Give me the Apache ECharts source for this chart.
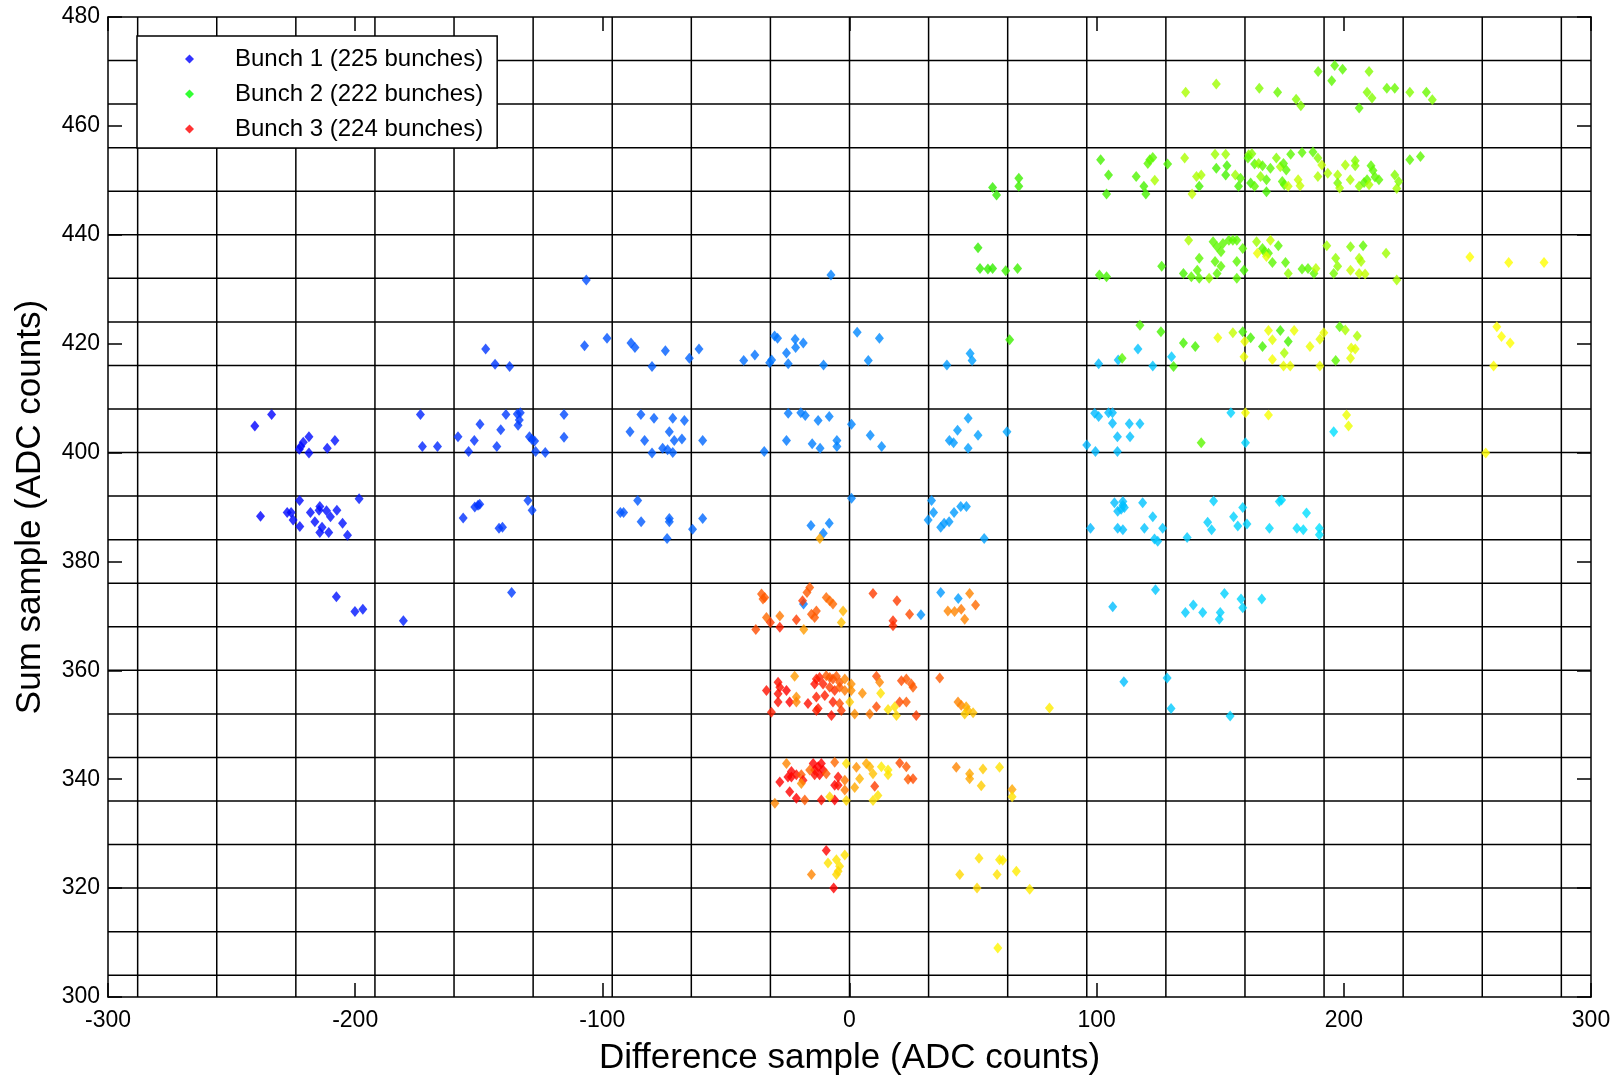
<!DOCTYPE html>
<html>
<head>
<meta charset="utf-8">
<title>Sum vs Difference sample</title>
<script src="https://cdn.jsdelivr.net/npm/echarts@6/dist/echarts.min.js"></script>
<style>
  html, body { margin: 0; padding: 0; background: #fff; }
  #chart { width: 1616px; height: 1076px; }
</style>
</head>
<body>
<div id="chart"></div>
<script>
// Axis ranges and tick steps
const xRange = [-300, 300];
const yRange = [300, 480];
const xTickStep = 100;
const yTickStep = 20;

// Bin boundaries drawn as the black grid (32 counts wide, 8 counts tall)
const xGridLines = [-288, -256, -224, -192, -160, -128, -96, -64, -32, 0, 32, 64, 96, 128, 160, 192, 224, 256, 288];
const yGridLines = [304, 312, 320, 328, 336, 344, 352, 360, 368, 376, 384, 392, 400, 408, 416, 424, 432, 440, 448, 456, 464, 472];

const seriesNames = ['Bunch 1 (225 bunches)', 'Bunch 2 (222 bunches)', 'Bunch 3 (224 bunches)'];

// Bunch 1: [difference, sum]
const bunch1 = [
  [-106.5,431.7],[-147.2,419],[-143.4,416.2],[-137.5,415.8],[-107.2,419.6],[-98.1,421],
  [-233.8,407],[-240.6,404.9],[-218.7,402.9],[-221,401.9],[-222,401.1],[-222.6,400.6],[-218.7,399.9],[-211.3,400.8],[-208.2,402.2],
  [-173.6,407],[-172.8,401.1],[-166.7,401.1],[-158.4,402.9],[-154.1,400.2],[-151.8,402.2],[-149.5,405.2],[-142.7,401.1],[-141.1,404.2],
  [-139,407],[-134.4,407.1],[-133.6,406],[-134.1,405],[-133.2,407.3],[-129.5,402.9],[-128.5,402.4],[-127.4,402.1],[-127,400.2],[-123.1,400],
  [-115.5,407],[-115.5,402.8],
  [-222.5,391.2],[-238.3,388.3],[-227.5,389],[-225.9,389],[-225.1,387.6],[-222.4,386.4],[-218.1,389],[-216.3,387.3],[-214.3,390.1],
  [-214.6,389.4],[-211.6,389.3],[-210,388.2],[-207.4,389.4],[-213.4,386.3],[-214.3,385.3],[-210.7,385.3],[-205.1,387],[-203.1,384.8],
  [-198.4,391.5],[-156.3,388],[-151.6,390],[-150.3,390.3],[-149.6,390.5],[-141.8,386.1],[-140.4,386.3],[-130.1,391.2],[-128.4,389.4],
  [-92.7,389],[-91.4,389],
  [-207.6,373.5],[-200.1,370.8],[-196.9,371.2],[-180.5,369.1],[-136.7,374.3],
  [-7.5,432.6],
  [-88.4,420.1],[-86.8,419.3],[-74.5,418.7],[-79.9,415.8],[-64.8,417.3],[-60.9,419],[-42.8,416.9],[-38.3,417.9],[-32.3,416.5],[-31.5,417],
  [-30.3,421.4],[-29.1,421],[-25.5,418.3],[-24.8,416.3],[-22,420.8],[-21.8,419.3],[-18.7,420.1],[-10.5,416.1],[3.1,422.1],[12.1,421],
  [7.6,416.9],[39.4,416.1],
  [-84.4,407],[-88.8,403.8],[-79.1,406.3],[-82.9,402.2],[-71.5,406.3],[-72.9,403.8],[-66.8,405.9],[-70.9,402.2],[-67.8,402.5],[-75.6,400.8],
  [-73.6,400.5],[-71.5,400],[-79.9,399.9],[-59.4,402.2],[-34.5,400.2],[-24.8,407.2],[-19.7,407.3],[-17.9,406.8],[-12.7,405.9],[-8.2,406.6],
  [0.8,405.2],[-25.5,402.2],[-15.1,401.6],[-11.9,400.8],[-5.1,402.2],[-5.1,401.1],[8.4,403.2],[13,401.1],[43.7,404.1],[40.4,402.2],[42.1,401.8],
  [-85.7,391.2],[-84.3,387.3],[-72.9,387.9],[-72.9,387.3],[-73.8,384.2],[-59.4,387.9],[-63.5,385.9],[-15.6,386.6],[-8.2,387],[-10.6,385.2],
  [0.8,391.6],[33.2,391.2],[34,389],[31.8,387.6],[36.9,386.3],[38.3,387],[40.3,387.3],[42.3,389],[45,390.1],[47.3,390.1],[54.5,384.2],
  [-18.6,372.2],[36.9,374.3],[44,373.2],[28.9,370.2],
  [48.8,418.2],[49.6,416.9],[100.8,416.3],[108.7,417],[116.7,419],[122.7,415.9],[130.3,417.6],
  [48,406.3],[52,403.2],[48,400.8],[63.7,403.8],[96,401.4],[99.2,407.2],[100.8,406.6],[104.8,407.3],[106.4,407.3],[106.4,405.4],
  [113.2,405.3],[117.5,405.3],[108.4,402.9],[113.5,402.9],[99.5,400.2],[108.4,400.2],[154.3,407.3],[160.2,401.8],[195.9,403.8],
  [107.2,390.8],[110.6,391],[110.6,390.3],[118.6,390.8],[108.5,389.2],[109.9,389.6],[111.2,389.9],[122.7,388.2],[97.5,386.1],[108.5,386.1],
  [110.6,385.8],[119.3,386.1],[126.7,386.1],[123.4,384.1],[124.7,383.7],[136.6,384.4],[147.3,391.1],[144.9,387.2],[146.5,385.8],[155.4,388.2],
  [159.1,389.9],[157.1,386.5],[160.8,386.9],[169.9,386.1],[173.9,391],[174.8,391.3],[184.9,388.9],[181,386.1],[183.6,385.8],[190.1,386.1],
  [190.1,384.9],
  [123.8,374.8],[106.5,371.7],[135.9,370.6],[139.1,372],[142.9,370.6],[151.7,374.1],[150,370.6],[149.6,369.4],[158.4,373.1],[159.1,371.5],
  [166.8,373.1],
  [111,357.9],[128.5,358.6],[130.1,353],[154,351.6]
];

// Bunch 2: [difference, sum, colour level 0..1]
const bunch2 = [
  [136,466.2,.6],[148.4,467.7,.55],[165.8,466.9,.45],[173.2,466.2,.35],[180.7,464.9,.45],[182.6,463.7,.45],[189.6,470,.35],[195.1,468.3,.3],
  [196.3,471.1,.3],[199.5,470.4,.3],[206.2,463.3,.3],[209.4,466.2,.45],[211.4,465.1,.45],[210.2,470,.45],[217.4,466.9,.35],[220.6,466.9,.35],
  [226.7,466.2,.45],[233.4,466.2,.35],[235.8,464.8,.45],
  [57.9,448.7,.1],[59.5,447.3,.1],[68.5,450.4,.15],[68.5,448.9,.15],[101.6,453.8,.2],[104.8,451,.2],[104,447.5,.2],[116,450.7,.25],
  [119.1,448.9,.2],[119.9,447.5,.2],[120.7,453.1,.3],[121.5,453.8,.3],[122.7,454.2,.3],[123.5,450,.6],[128.7,453,.25],[135.6,454.1,.6],
  [138.6,447.5,.7],[140.4,450.7,.6],[142.3,451,.6],[141.5,448.9,.2],[147.9,454.8,.55],[152.2,454.8,.55],[148.4,452.2,.2],[152.7,452.7,.2],
  [152.2,451,.2],[156.1,451,.55],[157.4,448.9,.2],[158.2,450.4,.3],[161.5,454.7,.45],[162.8,454.9,.45],[161.2,454.1,.3],[163.9,453,.3],
  [165.5,453.1,.5],[167.1,452.7,.3],[162.3,449.5,.2],[163.9,448.9,.3],[166.3,450.7,.5],[168.7,450.1,.3],[168.7,447.9,.2],[170.3,452.2,.3],
  [172.7,454.1,.45],[174.3,452.5,.6],[175.6,453.1,.3],[176.7,451.9,.3],[175.1,449.8,.3],[175.9,449.2,.3],[177.5,448.9,.7],[178.5,454.8,.3],
  [183.1,455.1,.3],[187.5,455.2,.3],[189.5,454.1,.45],[181.5,450.1,.7],[182.3,449,.7],[189.5,450.7,.6],[191.1,452.8,.7],[193.5,451.3,.6],
  [197.5,451,.6],[197.5,449.5,.4],[198.3,448.6,.6],[200.6,452.8,.6],[204.6,453.6,.45],[204.6,452.7,.45],[202.6,450.1,.6],[206.2,448.9,.5],
  [208.2,449.6,.3],[209.4,450.1,.3],[211,452.7,.3],[211.8,451.8,.3],[212.6,450.6,.3],[214.2,450.1,.3],[210.2,449.2,.6],[220.6,451,.45],
  [221.4,448.5,.55],[222.2,449.8,.45],[226.7,453.8,.3],[231,454.4,.3],
  [52,437.6,.1],[52.8,433.8,.1],[56,433.7,.1],[57.9,433.8,.1],[63.2,433.4,.15],[68,433.8,.15],[101.1,432.6,.2],[104,432.3,.2],[126.3,434.2,.2],
  [137.2,439,.6],[141.5,435.7,.3],[140.7,433.5,.3],[135.1,432.9,.2],[138.3,432.3,.3],[141.5,432,.3],[145.5,432,.5],[147.1,438.7,.3],
  [148.7,437.8,.3],[150.3,436.9,.3],[151.1,438.4,.3],[153.5,439,.3],[155.1,439,.3],[159.1,437.5,.3],[156.7,439,.3],[147.9,435.1,.3],
  [150.3,434.2,.3],[148.7,432.9,.3],[156.7,435.1,.3],[159.6,433.5,.2],[156.7,432,.3],[164.7,438.7,.55],[170.3,439,.7],[167.1,437.5,.3],
  [167.9,436.9,.3],[169.5,436.6,.3],[173.5,438,.3],[171.1,434.9,.3],[176.4,434.9,.3],[165,436.6,.9],[168.7,436,.85],[177.5,432.9,.5],
  [183.1,433.7,.3],[185.5,433.8,.3],[187.9,432.9,.3],[188.7,433.8,.65],[193.1,438,.55],[196.7,435.7,.5],[197.5,434.2,.5],[195.9,432.9,.4],
  [202.7,437.8,.45],[206.2,435.7,.6],[207,435.1,.6],[202.7,433.5,.7],[206.2,432.9,.7],[207.8,438,.3],[208.6,432.8,.7],[217.1,436.6,.55],
  [221.4,431.7,.6],[251,435.9,1],[266.7,434.9,1],[281,434.9,1],
  [64.8,420.7,.15],[117.5,423.4,.25],[126,422.2,.2],[110.3,417.3,.3],[135.1,420.1,.2],[139.9,419.5,.2],[131.1,415.8,.2],[149,421.1,.9],
  [155.1,422,.7],[159.1,422.2,.2],[162.3,421.1,.2],[159.9,420.4,.9],[159.6,417.6,.9],[167.1,419.5,.2],[169.5,422.4,.9],[171.1,420.7,.85],
  [174.3,422.4,.2],[177.5,420.4,.2],[179.9,422.4,.9],[175.9,418.3,.6],[171.1,417.1,.95],[175.6,415.9,.9],[178.3,415.9,.9],[186.3,419.5,.9],
  [190.3,420.8,.85],[191.9,422,.9],[190.3,415.9,.9],[198.3,423.1,.3],[200.6,422.5,.6],[205.4,421.4,.6],[203,419.2,.85],[204.6,419,.85],
  [196.7,416.9,.3],[202.7,417.3,.85],[261.9,423.1,1],[263.8,421.3,1],[267.3,420.1,1],[260.6,415.9,1],
  [142.3,401.8,.3],[160.2,407.3,.95],[169.5,406.9,.95],[201.1,406.9,.9],[201.9,404.9,.9],[257.4,399.9,1]
];

// Bunch 3: [difference, sum, colour level 0..1]
const bunch3 = [
  [-35.6,374,.3],[-34.3,373.4,.3],[-35,373.1,.3],[-33.6,369.7,.35],[-28.2,370,.4],[-32,368.8,.2],[-28.2,367.9,.1],[-37.9,367.5,.25],
  [-16.1,375.2,.3],[-17.2,374.3,.3],[-19,372.8,.2],[-21.5,369.3,.2],[-15.4,370.3,.3],[-13.4,370.9,.3],[-14.1,369.7,.3],[-9.4,373.4,.35],
  [-8,372.8,.35],[-6.7,372.2,.35],[-2.6,370.9,.65],[-3.3,368.8,.7],[-18.5,367.5,.55],[9.5,374.1,.2],[19.2,372.8,.2],[24.3,370.3,.25],
  [17.6,369.1,.15],[17.6,368.2,.15],[48.6,374.1,.45],[51,372,.35],[39.8,370.9,.45],[42.5,370.8,.45],[45.2,371.2,.4],[46.6,369.4,.45],
  [-12,384.2,.6],
  [-33.6,356.3,.05],[-28.9,357.8,.05],[-28.2,356.9,.05],[-28.9,355.7,.05],[-28.9,354.2,.05],[-25.5,356.3,0],[-24.2,354.2,0],[-22.2,358.9,.55],
  [-21.5,355.1,.5],[-21.5,354.2,.45],[-31.6,352.3,.1],[-16.8,353.9,.05],[-13.4,358.4,.1],[-12.1,358.7,.1],[-14.1,357.5,.05],[-13.4,355.1,.1],
  [-12.7,353,.1],[-9.4,359,.3],[-8,358.7,.3],[-6.7,358.4,.25],[-5.3,358.9,.3],[-10.7,357.5,.1],[-8,356.9,.2],[-6,356.3,.15],[-4,356.9,.3],
  [-4,357.8,.3],[-10,355.4,.1],[-6.7,354.2,.1],[-4,353.9,.25],[-3.3,352.6,.2],[-7.3,351.7,.05],[-13.4,352.6,.1],[-1.9,356.3,.4],
  [-1.9,358.4,.45],[0.7,357.5,.5],[0.7,356.3,.5],[0.1,354.2,.75],[2.1,352,.5],[8.2,352,.4],[5.2,355.8,.5],[10.9,358.9,.25],[12.2,357.8,.45],
  [12.6,355.8,.85],[10.9,353.3,.25],[15.6,352.8,.85],[18.3,353.3,.85],[19,351.7,.8],[20.3,354.2,.25],[23,354.2,.3],[21,358.1,.25],
  [23,358.4,.3],[25,357.5,.3],[25.7,356.9,.3],[27,351.7,.2],[36.5,358.6,.3],[43.9,354.2,.45],[45.2,353.6,.45],[47.2,353.3,.6],
  [47.9,352.6,.65],[50,352.2,.7],[46.6,352,.75],[80.9,353.1,.9],
  [-25.5,342.9,.45],[-28.2,339.5,0],[-24.9,340.4,0],[-23.5,340.4,0],[-23.5,341.4,0],[-21.5,340.8,.05],[-19.5,340.8,.3],[-18.8,339.8,.05],
  [-19.5,339.2,.5],[-24.2,337.7,0],[-21.5,336.5,0],[-18.1,336.2,.3],[-30.2,335.6,.45],[-14.7,342.9,0],[-14.1,341.7,0],[-12.7,342.3,0],
  [-11.4,342.9,0],[-10.7,341.7,0],[-12.1,340.8,0],[-14.1,340.8,.05],[-16.1,341.7,.35],[-9.4,341,.3],[-6,343.1,.35],[-4.6,340.4,.05],
  [-6,338.9,0],[-4.6,338.9,.05],[-1.9,339.8,.4],[-1.9,338,.4],[-11.4,336.2,.05],[-6,336.2,0],[-8,336.8,.8],[-1.3,342.9,.85],[-1.3,336.1,.8],
  [2.8,342.2,.5],[6.8,342.9,.6],[8.2,342.3,.65],[9.5,341,.7],[12.9,342.3,.9],[15.6,341.7,.9],[15.6,340.8,.85],[4.1,340.1,.65],[2.1,338.5,.6],
  [10.2,338.7,.2],[11.5,337,.85],[9.5,336.1,.85],[20.3,343,.25],[23,342.3,.3],[23.7,340,.3],[25.7,340.1,.25],[43.2,342.2,.45],[48.6,341,.6],
  [48.6,340.1,.6],[53.3,338.8,.75],[54,341.9,.75],[60.7,342.2,.85],[65.8,338.1,.6],[65.8,336.8,.85],
  [-9.4,326.9,0],[-1.9,326.1,.85],[-5.3,325.2,.85],[-8.7,324.6,.85],[-4,324,.85],[-4.6,323.1,.8],[-5.3,322.5,.8],[-15.4,322.5,.45],
  [-6.4,320,0],[52.4,325.5,.85],[60.7,325.2,.9],[62,325.1,.9],[44.6,322.5,.8],[59.7,322.5,.85],[67.5,323.1,.9],[51.6,320,.8],[72.9,319.8,.9],
  [60,309,.95]
];

const FONT = '"Liberation Sans", Arial, sans-serif';
const chart = echarts.init(document.getElementById('chart'), null, { renderer: 'canvas' });

const frameLine = { color: '#000', width: 1.5 };
const innerTick = { inside: true, length: 14, lineStyle: { color: '#000', width: 1.5 } };

function gridSeries(values, vertical) {
  return {
    type: 'custom',
    silent: true,
    z: 1,
    data: values.map(v => vertical ? [v, yRange[0]] : [xRange[0], v]),
    renderItem: function (params, api) {
      const p1 = vertical ? api.coord([api.value(0), yRange[0]]) : api.coord([xRange[0], api.value(1)]);
      const p2 = vertical ? api.coord([api.value(0), yRange[1]]) : api.coord([xRange[1], api.value(1)]);
      return {
        type: 'line',
        shape: { x1: p1[0], y1: p1[1], x2: p2[0], y2: p2[1] },
        style: { stroke: '#000', lineWidth: 1.5 }
      };
    }
  };
}

function scatterSeries(name, data, color) {
  return {
    name: name,
    type: 'scatter',
    z: 3,
    symbol: 'diamond',
    symbolSize: [9, 11],
    itemStyle: { color: color },
    data: data
  };
}

chart.setOption({
  animation: false,
  backgroundColor: '#fff',
  textStyle: { fontFamily: FONT },
  grid: { left: 108, right: 25, top: 17, bottom: 79, containLabel: false, outerBoundsMode: 'none' },
  legend: {
    data: seriesNames,
    orient: 'vertical',
    left: 137,
    top: 36,
    padding: [10, 14, 6, 48],
    itemGap: 9,
    itemWidth: 9,
    itemHeight: 9,
    icon: 'diamond',
    backgroundColor: '#fff',
    borderColor: '#000',
    borderWidth: 1.5,
    textStyle: { fontFamily: FONT, fontSize: 24, color: '#000', lineHeight: 26, padding: [0, 0, 0, 36] },
    z: 10
  },
  visualMap: [
    { type: 'continuous', show: false, seriesIndex: 2, dimension: 0, min: -240, max: 190,
      inRange: { color: ['#0000ff', '#0020ff', '#0048ff', '#0068ff', '#0088ff', '#00a8ff', '#00c8ff', '#00e0ff'] } },
    { type: 'continuous', show: false, seriesIndex: 3, dimension: 2, min: 0, max: 1,
      inRange: { color: ['#20e800', '#50f500', '#90ff00', '#d0ff00', '#ffff00'] } },
    { type: 'continuous', show: false, seriesIndex: 4, dimension: 2, min: 0, max: 1,
      inRange: { color: ['#ff0000', '#ff3c00', '#ff7800', '#ffa800', '#ffd800', '#ffff00'] } }
  ],
  xAxis: [
    {
      type: 'value', position: 'bottom', min: xRange[0], max: xRange[1], interval: xTickStep,
      axisLine: { onZero: false, lineStyle: frameLine },
      axisTick: innerTick,
      axisLabel: { color: '#000', fontSize: 23, fontFamily: FONT, margin: 12 },
      splitLine: { show: false },
      name: 'Difference sample (ADC counts)',
      nameLocation: 'middle',
      nameGap: 44,
      nameTextStyle: { color: '#000', fontSize: 35, fontFamily: FONT }
    },
    {
      type: 'value', position: 'top', min: xRange[0], max: xRange[1], interval: xTickStep,
      axisLine: { onZero: false, lineStyle: frameLine },
      axisTick: innerTick,
      axisLabel: { show: false },
      splitLine: { show: false }
    }
  ],
  yAxis: [
    {
      type: 'value', position: 'left', min: yRange[0], max: yRange[1], interval: yTickStep,
      axisLine: { onZero: false, lineStyle: frameLine },
      axisTick: innerTick,
      axisLabel: { color: '#000', fontSize: 23, fontFamily: FONT, margin: 8 },
      splitLine: { show: false },
      name: 'Sum sample (ADC counts)',
      nameLocation: 'middle',
      nameGap: 60,
      nameTextStyle: { color: '#000', fontSize: 35, fontFamily: FONT }
    },
    {
      type: 'value', position: 'right', min: yRange[0], max: yRange[1], interval: yTickStep,
      axisLine: { onZero: false, lineStyle: frameLine },
      axisTick: innerTick,
      axisLabel: { show: false },
      splitLine: { show: false }
    }
  ],
  series: [
    gridSeries(xGridLines, true),
    gridSeries(yGridLines, false),
    scatterSeries(seriesNames[0], bunch1, '#0000ff'),
    scatterSeries(seriesNames[1], bunch2, '#00ff00'),
    scatterSeries(seriesNames[2], bunch3, '#ff0000')
  ]
});
</script>
</body>
</html>
